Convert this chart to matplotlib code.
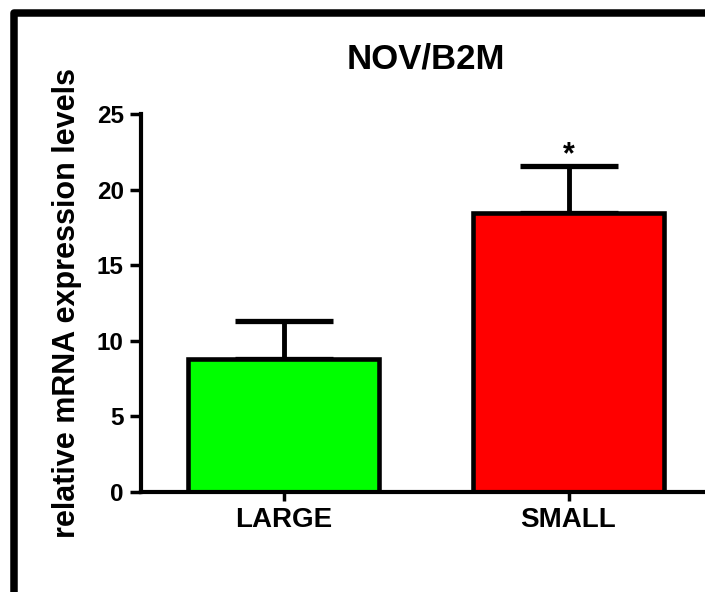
import matplotlib
matplotlib.use("Agg")
import matplotlib.pyplot as plt
from matplotlib.patches import Rectangle

groups = ["LARGE", "SMALL"]
means = [8.79, 18.46]
sem_upper = [2.54, 3.08]
bar_colors = ["#00ff00", "#ff0000"]
yticks = [0, 5, 10, 15, 20, 25]
star_y = 21.75

plt.rcParams["font.family"] = ["Liberation Sans", "DejaVu Sans"]
plt.rcParams["font.weight"] = "bold"

fig = plt.figure(figsize=(7.05, 5.92), dpi=100, facecolor="white")
ax = fig.add_axes([141 / 705, 100.3 / 592, 570 / 705, 377.7 / 592])

x = list(range(len(groups)))
ax.bar(x, means, width=0.667, color=bar_colors, edgecolor="black", linewidth=3.3, zorder=2)
ax.errorbar(x, means, yerr=[[0, 0], sem_upper], fmt="none", ecolor="black",
            elinewidth=3.5, capsize=35, capthick=3.8, zorder=1)
ax.text(1, star_y, "*", ha="center", va="baseline", fontsize=22, fontweight="bold")

ax.set_xlim(-0.5, 1.5)
ax.set_ylim(0, 25)
ax.set_yticks(yticks)
ax.set_xticks(x)
ax.set_xticklabels(groups)
for s in ["top", "right"]:
    ax.spines[s].set_visible(False)
for s in ["left", "bottom"]:
    ax.spines[s].set_linewidth(3)
ax.tick_params(axis="y", length=8, width=2.5, pad=4.5, labelsize=17.5)
ax.tick_params(axis="x", length=6.5, width=2.5, pad=4.3, labelsize=20)
for lab in ax.get_xticklabels() + ax.get_yticklabels():
    lab.set_fontweight("bold")

ax.set_title("NOV/B2M", fontsize=25, fontweight="bold", pad=33)
ax.set_ylabel("relative mRNA expression levels", fontsize=22, fontweight="bold")
ax.yaxis.set_label_coords(-0.1035, 0.5)

# outer frame, partly cut off at right and bottom
fig.patches.append(Rectangle((13.5 / 705, -0.0037), 1.05, 0.9784 + 0.0037,
                             transform=fig.transFigure, fill=False, edgecolor="black",
                             linewidth=5.4, joinstyle="round"))

fig.savefig("out.png", dpi=100, facecolor="white")
